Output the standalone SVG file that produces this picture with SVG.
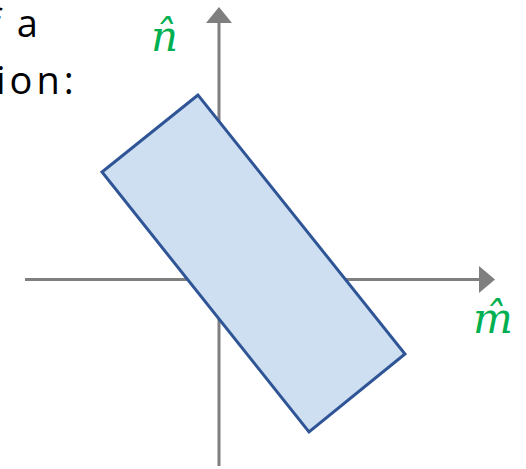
<svg xmlns="http://www.w3.org/2000/svg" width="526" height="469" viewBox="0 0 526 469">
<style>
.body{font-family:"Open Sans","Noto Sans",sans-serif;font-size:38px;fill:#000}
.math{font-family:"DejaVu Serif","Liberation Serif",serif;font-style:italic;fill:#00B050;font-size:42px}
.axis{stroke:#7f7f7f;stroke-width:3;fill:none}
.head{fill:#7f7f7f}
</style>
<rect width="526" height="469" fill="#fff"/>
<g id="text">
<text class="body" x="-12" y="37" letter-spacing="3">f a</text>
<text class="body" x="-4" y="94" letter-spacing="4">ion:</text>
</g>
<g id="connectors">
<line class="axis" x1="219" y1="466" x2="219" y2="22"/>
<polygon class="head" points="219,7 206,23 232,23"/>
<line class="axis" x1="25" y1="279.5" x2="481" y2="279.5"/>
<polygon class="head" points="495,279.5 479,266 479,293"/>
</g>
<g id="rect">
<polygon points="198,95 102,172 309,432 405,354" fill="#cddff0" stroke="#2f5597" stroke-width="3" stroke-linejoin="miter"/>
</g>
<g id="label-n">
<text class="math" x="151" y="51">n̂</text>
</g>
<g id="label-m">
<text class="math" x="473" y="333">m̂</text>
</g>
</svg>
